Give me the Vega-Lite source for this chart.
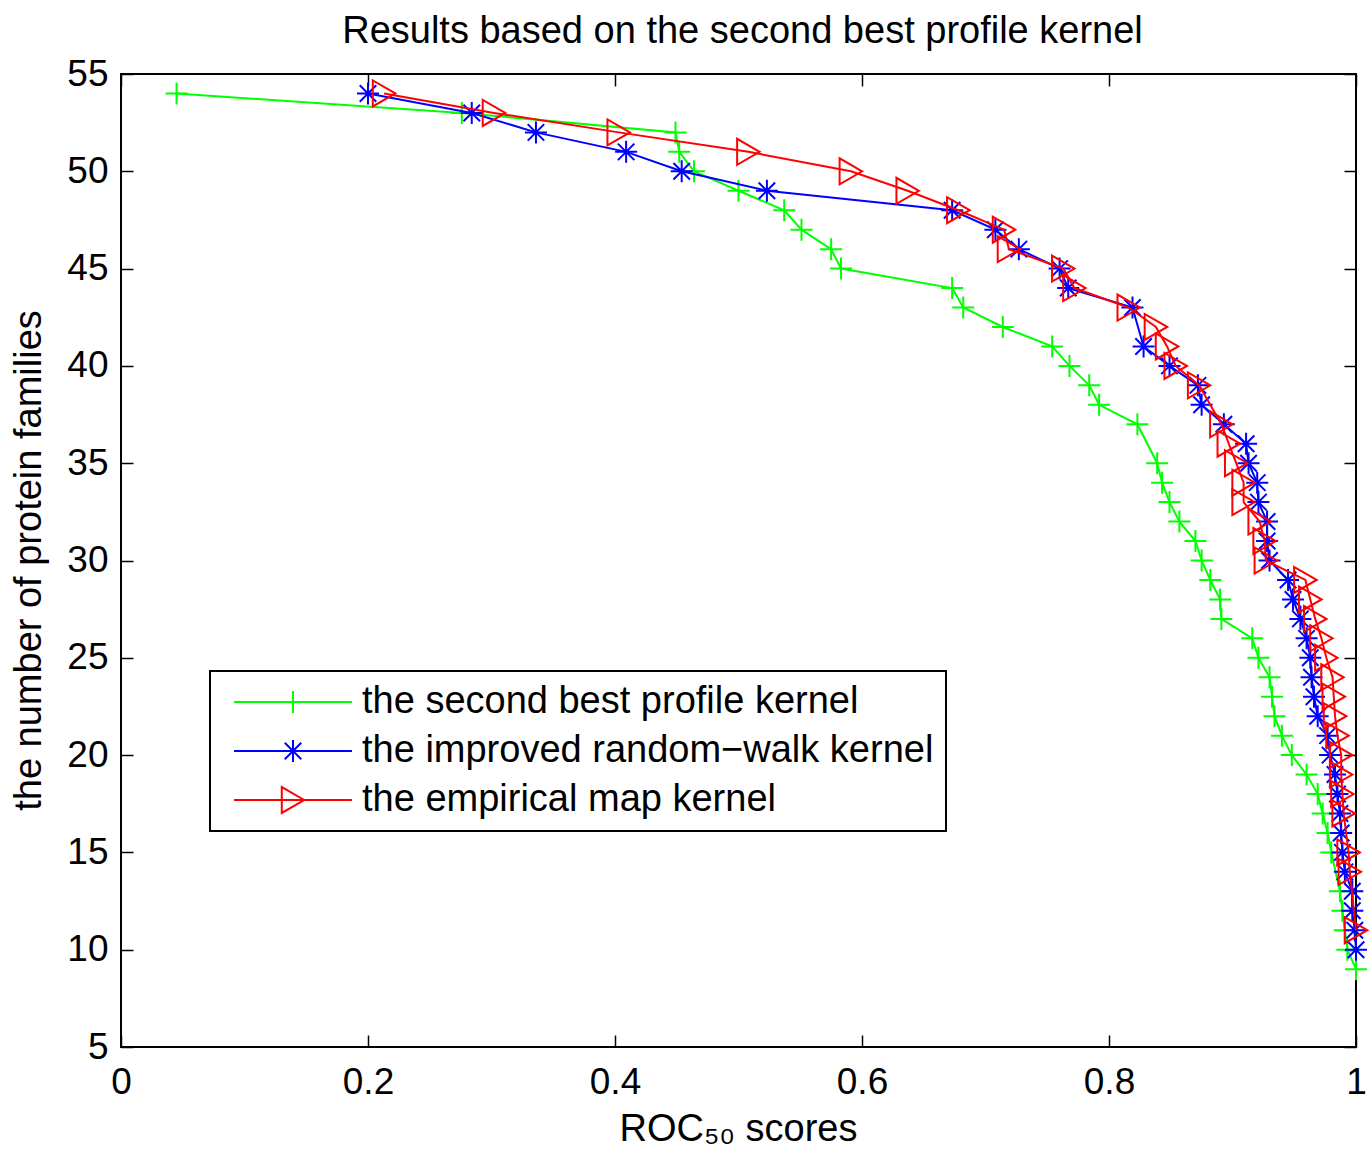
{
  "$schema": "https://vega.github.io/schema/vega-lite/v6.json",
  "width": 1235,
  "height": 973,
  "autosize": {"type": "none"},
  "padding": {"left": 121, "top": 74, "right": 15, "bottom": 113},
  "background": "white",
  "title": {
    "text": "Results based on the second best profile kernel",
    "font": "Liberation Sans",
    "fontSize": 38,
    "fontWeight": "normal",
    "color": "black",
    "anchor": "middle",
    "baseline": "bottom",
    "offset": 22,
    "dx": 4,
    "dy": 56
  },
  "config": {
    "view": {"stroke": "black", "strokeWidth": 2},
    "axis": {
      "grid": false,
      "domain": false,
      "ticks": true,
      "tickSize": -12,
      "tickColor": "black",
      "tickWidth": 1.5,
      "labelFont": "Liberation Sans",
      "labelFontSize": 37,
      "labelColor": "black",
      "labelFlush": false,
      "labelOverlap": false,
      "titleFont": "Liberation Sans",
      "titleFontSize": 38,
      "titleFontWeight": "normal",
      "titleColor": "black"
    },
    "legend": {
      "orient": "none",
      "legendX": 89,
      "legendY": 597,
      "padding": 12,
      "fillColor": "white",
      "strokeColor": "black",
      "symbolSize": 484,
      "symbolStrokeWidth": 2,
      "symbolOffset": 52,
      "labelOffset": 50,
      "rowPadding": 11,
      "labelFont": "Liberation Sans",
      "labelFontSize": 38,
      "labelColor": "black",
      "labelLimit": 1000
    }
  },
  "data": {
    "values": [
      {"series": "the second best profile kernel", "families": 54, "roc": 0.045},
      {"series": "the second best profile kernel", "families": 53, "roc": 0.276},
      {"series": "the second best profile kernel", "families": 52, "roc": 0.449},
      {"series": "the second best profile kernel", "families": 51, "roc": 0.452},
      {"series": "the second best profile kernel", "families": 50, "roc": 0.464},
      {"series": "the second best profile kernel", "families": 49, "roc": 0.500},
      {"series": "the second best profile kernel", "families": 48, "roc": 0.537},
      {"series": "the second best profile kernel", "families": 47, "roc": 0.551},
      {"series": "the second best profile kernel", "families": 46, "roc": 0.575},
      {"series": "the second best profile kernel", "families": 45, "roc": 0.583},
      {"series": "the second best profile kernel", "families": 44, "roc": 0.673},
      {"series": "the second best profile kernel", "families": 43, "roc": 0.682},
      {"series": "the second best profile kernel", "families": 42, "roc": 0.714},
      {"series": "the second best profile kernel", "families": 41, "roc": 0.754},
      {"series": "the second best profile kernel", "families": 40, "roc": 0.768},
      {"series": "the second best profile kernel", "families": 39, "roc": 0.784},
      {"series": "the second best profile kernel", "families": 38, "roc": 0.792},
      {"series": "the second best profile kernel", "families": 37, "roc": 0.823},
      {"series": "the second best profile kernel", "families": 35, "roc": 0.839},
      {"series": "the second best profile kernel", "families": 34, "roc": 0.843},
      {"series": "the second best profile kernel", "families": 33, "roc": 0.849},
      {"series": "the second best profile kernel", "families": 32, "roc": 0.857},
      {"series": "the second best profile kernel", "families": 31, "roc": 0.870},
      {"series": "the second best profile kernel", "families": 30, "roc": 0.875},
      {"series": "the second best profile kernel", "families": 29, "roc": 0.882},
      {"series": "the second best profile kernel", "families": 28, "roc": 0.890},
      {"series": "the second best profile kernel", "families": 27, "roc": 0.891},
      {"series": "the second best profile kernel", "families": 26, "roc": 0.916},
      {"series": "the second best profile kernel", "families": 25, "roc": 0.921},
      {"series": "the second best profile kernel", "families": 24, "roc": 0.930},
      {"series": "the second best profile kernel", "families": 23, "roc": 0.932},
      {"series": "the second best profile kernel", "families": 22, "roc": 0.934},
      {"series": "the second best profile kernel", "families": 21, "roc": 0.940},
      {"series": "the second best profile kernel", "families": 20, "roc": 0.948},
      {"series": "the second best profile kernel", "families": 19, "roc": 0.960},
      {"series": "the second best profile kernel", "families": 18, "roc": 0.969},
      {"series": "the second best profile kernel", "families": 17, "roc": 0.973},
      {"series": "the second best profile kernel", "families": 16, "roc": 0.977},
      {"series": "the second best profile kernel", "families": 15, "roc": 0.980},
      {"series": "the second best profile kernel", "families": 13, "roc": 0.987},
      {"series": "the second best profile kernel", "families": 12, "roc": 0.989},
      {"series": "the second best profile kernel", "families": 11, "roc": 0.991},
      {"series": "the second best profile kernel", "families": 10, "roc": 0.993},
      {"series": "the second best profile kernel", "families": 9, "roc": 1.000},

      {"series": "the improved random−walk kernel", "families": 54, "roc": 0.200},
      {"series": "the improved random−walk kernel", "families": 53, "roc": 0.284},
      {"series": "the improved random−walk kernel", "families": 52, "roc": 0.336},
      {"series": "the improved random−walk kernel", "families": 51, "roc": 0.409},
      {"series": "the improved random−walk kernel", "families": 50, "roc": 0.454},
      {"series": "the improved random−walk kernel", "families": 49, "roc": 0.523},
      {"series": "the improved random−walk kernel", "families": 48, "roc": 0.673},
      {"series": "the improved random−walk kernel", "families": 47, "roc": 0.708},
      {"series": "the improved random−walk kernel", "families": 46, "roc": 0.727},
      {"series": "the improved random−walk kernel", "families": 45, "roc": 0.760},
      {"series": "the improved random−walk kernel", "families": 44, "roc": 0.767},
      {"series": "the improved random−walk kernel", "families": 43, "roc": 0.819},
      {"series": "the improved random−walk kernel", "families": 41, "roc": 0.828},
      {"series": "the improved random−walk kernel", "families": 40, "roc": 0.849},
      {"series": "the improved random−walk kernel", "families": 39, "roc": 0.872},
      {"series": "the improved random−walk kernel", "families": 38, "roc": 0.875},
      {"series": "the improved random−walk kernel", "families": 37, "roc": 0.893},
      {"series": "the improved random−walk kernel", "families": 36, "roc": 0.911},
      {"series": "the improved random−walk kernel", "families": 35, "roc": 0.913},
      {"series": "the improved random−walk kernel", "families": 34, "roc": 0.920},
      {"series": "the improved random−walk kernel", "families": 33, "roc": 0.921},
      {"series": "the improved random−walk kernel", "families": 32, "roc": 0.928},
      {"series": "the improved random−walk kernel", "families": 31, "roc": 0.928},
      {"series": "the improved random−walk kernel", "families": 30, "roc": 0.930},
      {"series": "the improved random−walk kernel", "families": 29, "roc": 0.945},
      {"series": "the improved random−walk kernel", "families": 28, "roc": 0.949},
      {"series": "the improved random−walk kernel", "families": 27, "roc": 0.955},
      {"series": "the improved random−walk kernel", "families": 26, "roc": 0.960},
      {"series": "the improved random−walk kernel", "families": 25, "roc": 0.963},
      {"series": "the improved random−walk kernel", "families": 24, "roc": 0.964},
      {"series": "the improved random−walk kernel", "families": 23, "roc": 0.966},
      {"series": "the improved random−walk kernel", "families": 22, "roc": 0.969},
      {"series": "the improved random−walk kernel", "families": 21, "roc": 0.977},
      {"series": "the improved random−walk kernel", "families": 20, "roc": 0.979},
      {"series": "the improved random−walk kernel", "families": 19, "roc": 0.983},
      {"series": "the improved random−walk kernel", "families": 18, "roc": 0.985},
      {"series": "the improved random−walk kernel", "families": 17, "roc": 0.987},
      {"series": "the improved random−walk kernel", "families": 16, "roc": 0.988},
      {"series": "the improved random−walk kernel", "families": 15, "roc": 0.989},
      {"series": "the improved random−walk kernel", "families": 14, "roc": 0.991},
      {"series": "the improved random−walk kernel", "families": 13, "roc": 0.997},
      {"series": "the improved random−walk kernel", "families": 12, "roc": 0.997},
      {"series": "the improved random−walk kernel", "families": 11, "roc": 0.999},
      {"series": "the improved random−walk kernel", "families": 10, "roc": 1.000},

      {"series": "the empirical map kernel", "families": 54, "roc": 0.213},
      {"series": "the empirical map kernel", "families": 53, "roc": 0.302},
      {"series": "the empirical map kernel", "families": 52, "roc": 0.403},
      {"series": "the empirical map kernel", "families": 51, "roc": 0.508},
      {"series": "the empirical map kernel", "families": 50, "roc": 0.591},
      {"series": "the empirical map kernel", "families": 49, "roc": 0.637},
      {"series": "the empirical map kernel", "families": 48, "roc": 0.678},
      {"series": "the empirical map kernel", "families": 47, "roc": 0.715},
      {"series": "the empirical map kernel", "families": 46, "roc": 0.719},
      {"series": "the empirical map kernel", "families": 45, "roc": 0.763},
      {"series": "the empirical map kernel", "families": 44, "roc": 0.772},
      {"series": "the empirical map kernel", "families": 43, "roc": 0.816},
      {"series": "the empirical map kernel", "families": 42, "roc": 0.838},
      {"series": "the empirical map kernel", "families": 41, "roc": 0.847},
      {"series": "the empirical map kernel", "families": 40, "roc": 0.854},
      {"series": "the empirical map kernel", "families": 39, "roc": 0.873},
      {"series": "the empirical map kernel", "families": 37, "roc": 0.891},
      {"series": "the empirical map kernel", "families": 36, "roc": 0.897},
      {"series": "the empirical map kernel", "families": 35, "roc": 0.903},
      {"series": "the empirical map kernel", "families": 34, "roc": 0.909},
      {"series": "the empirical map kernel", "families": 33, "roc": 0.909},
      {"series": "the empirical map kernel", "families": 32, "roc": 0.922},
      {"series": "the empirical map kernel", "families": 31, "roc": 0.926},
      {"series": "the empirical map kernel", "families": 30, "roc": 0.927},
      {"series": "the empirical map kernel", "families": 29, "roc": 0.959},
      {"series": "the empirical map kernel", "families": 28, "roc": 0.963},
      {"series": "the empirical map kernel", "families": 27, "roc": 0.967},
      {"series": "the empirical map kernel", "families": 26, "roc": 0.972},
      {"series": "the empirical map kernel", "families": 25, "roc": 0.976},
      {"series": "the empirical map kernel", "families": 24, "roc": 0.981},
      {"series": "the empirical map kernel", "families": 23, "roc": 0.982},
      {"series": "the empirical map kernel", "families": 22, "roc": 0.983},
      {"series": "the empirical map kernel", "families": 21, "roc": 0.985},
      {"series": "the empirical map kernel", "families": 20, "roc": 0.988},
      {"series": "the empirical map kernel", "families": 19, "roc": 0.988},
      {"series": "the empirical map kernel", "families": 18, "roc": 0.989},
      {"series": "the empirical map kernel", "families": 17, "roc": 0.990},
      {"series": "the empirical map kernel", "families": 15, "roc": 0.994},
      {"series": "the empirical map kernel", "families": 14, "roc": 0.995},
      {"series": "the empirical map kernel", "families": 11, "roc": 1.000}
    ]
  },
  "layer": [
    {
      "transform": [{"filter": {"field": "series", "equal": "the second best profile kernel"}}],
      "mark": {"type": "line", "strokeWidth": 2},
      "encoding": {
        "x": {
          "field": "roc", "type": "quantitative",
          "scale": {"domain": [0, 1], "nice": false, "zero": false},
          "axis": {
            "orient": "bottom",
            "values": [0, 0.2, 0.4, 0.6, 0.8, 1],
            "format": "~g",
            "labelPadding": 29,
            "title": "ROC₅₀ scores",
            "titleX": 617,
            "titleY": 93,
            "titleAlign": "center",
            "titleBaseline": "alphabetic"
          }
        },
        "y": {
          "field": "families", "type": "quantitative",
          "scale": {"domain": [5, 55], "nice": false, "zero": false},
          "axis": {
            "orient": "left",
            "values": [5, 10, 15, 20, 25, 30, 35, 40, 45, 50, 55],
            "labelPadding": 25,
            "title": "the number of protein families",
            "titleX": -81,
            "titleY": 486,
            "titleAngle": -90,
            "titleAlign": "center",
            "titleBaseline": "alphabetic"
          }
        },
        "order": {"field": "families", "sort": "descending"},
        "color": {
          "field": "series", "type": "nominal",
          "scale": {
            "domain": ["the second best profile kernel", "the improved random−walk kernel", "the empirical map kernel"],
            "range": ["#00ff00", "#0000ff", "#ff0000"]
          },
          "legend": {
            "title": null,
            "encode": {
              "symbols": {
                "update": {
                  "shape": {"signal": "datum.value === 'the second best profile kernel' ? 'M-5.36,0L5.36,0M0,-1L0,1' : datum.value === 'the empirical map kernel' ? 'M-5.36,0L5.36,0M1.02,0L-1.02,-1.18L-1.02,1.18Z' : 'M-5.36,0L5.36,0M0,-1L0,1M-0.75,-0.75L0.75,0.75M-0.75,0.75L0.75,-0.75'"},
                  "fill": {"value": "transparent"},
                  "strokeWidth": {"value": 2},
                  "opacity": {"value": 1}
                }
              },
              "legend": {"update": {"strokeWidth": {"value": 2}}}
            }
          }
        }
      }
    },
    {
      "transform": [{"filter": {"field": "series", "equal": "the second best profile kernel"}}],
      "mark": {"type": "point", "shape": "M-1,0L1,0M0,-1L0,1", "filled": false, "size": 484, "strokeWidth": 2, "opacity": 1},
      "encoding": {
        "x": {
          "field": "roc", "type": "quantitative",
          "scale": {"domain": [0, 1], "nice": false, "zero": false},
          "axis": {"orient": "top", "values": [0, 0.2, 0.4, 0.6, 0.8, 1], "labels": false, "title": null}
        },
        "y": {
          "field": "families", "type": "quantitative",
          "scale": {"domain": [5, 55], "nice": false, "zero": false},
          "axis": {"orient": "right", "values": [5, 10, 15, 20, 25, 30, 35, 40, 45, 50, 55], "labels": false, "title": null}
        },
        "color": {"field": "series", "type": "nominal"}
      }
    },
    {
      "transform": [{"filter": {"field": "series", "equal": "the improved random−walk kernel"}}],
      "mark": {"type": "line", "strokeWidth": 2},
      "encoding": {
        "x": {"field": "roc", "type": "quantitative", "axis": null},
        "y": {"field": "families", "type": "quantitative", "axis": null},
        "order": {"field": "families", "sort": "descending"},
        "color": {"field": "series", "type": "nominal"}
      }
    },
    {
      "transform": [{"filter": {"field": "series", "equal": "the improved random−walk kernel"}}],
      "mark": {"type": "point", "shape": "M-1,0L1,0M0,-1L0,1M-0.75,-0.75L0.75,0.75M-0.75,0.75L0.75,-0.75", "filled": false, "size": 484, "strokeWidth": 2, "opacity": 1},
      "encoding": {
        "x": {"field": "roc", "type": "quantitative", "axis": null},
        "y": {"field": "families", "type": "quantitative", "axis": null},
        "color": {"field": "series", "type": "nominal"}
      }
    },
    {
      "transform": [{"filter": {"field": "series", "equal": "the empirical map kernel"}}],
      "mark": {"type": "line", "strokeWidth": 2},
      "encoding": {
        "x": {"field": "roc", "type": "quantitative", "axis": null},
        "y": {"field": "families", "type": "quantitative", "axis": null},
        "order": {"field": "families", "sort": "descending"},
        "color": {"field": "series", "type": "nominal"}
      }
    },
    {
      "transform": [{"filter": {"field": "series", "equal": "the empirical map kernel"}}],
      "mark": {"type": "point", "shape": "triangle-right", "filled": false, "size": 676, "strokeWidth": 2, "opacity": 1},
      "encoding": {
        "x": {"field": "roc", "type": "quantitative", "axis": null},
        "y": {"field": "families", "type": "quantitative", "axis": null},
        "color": {"field": "series", "type": "nominal"}
      }
    }
  ],
  "resolve": {"axis": {"x": "independent", "y": "independent"}}
}
